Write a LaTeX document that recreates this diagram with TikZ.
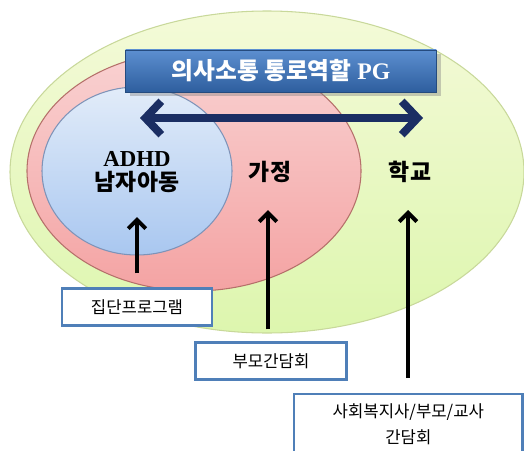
\documentclass[tikz,border=0pt]{standalone}
\usepackage{fontspec}
\setmainfont{Liberation Serif}
\newfontfamily\kr{Noto Sans CJK KR}
\usetikzlibrary{arrows.meta, positioning, shadows}

\definecolor{schoolfill}{HTML}{F4FAD8}
\definecolor{schoolfillb}{HTML}{DDF6AE}
\definecolor{schoolline}{HTML}{C8D89A}
\definecolor{homefill}{HTML}{F9D2D2}
\definecolor{homefillb}{HTML}{F4A3A3}
\definecolor{homeline}{HTML}{B5706A}
\definecolor{kidfill}{HTML}{E2ECF9}
\definecolor{kidfillb}{HTML}{A9C7F0}
\definecolor{kidline}{HTML}{7E93B8}
\definecolor{bannertop}{HTML}{5C8FD0}
\definecolor{bannerbot}{HTML}{2E5E9E}
\definecolor{navy}{HTML}{1B2E63}
\definecolor{boxblue}{HTML}{4F7FB8}

\begin{document}
\begin{tikzpicture}[x=0.02cm, y=-0.02cm]
\tikzset{
  region/.style={line width=0.6pt},
  label/.style={font=\bfseries\fontsize{13}{15}\selectfont, align=center},
  talkbox/.style={draw=boxblue, line width=1.3pt, fill=white, inner sep=0pt,
    font=\kr\fontsize{9.5}{15}\selectfont, align=center},
  uparrow/.style={line width=2.3pt, -{Straight Barb[length=5pt, width=10pt, line width=2.3pt]}},
}
\useasboundingbox (0,0) rectangle (524,450);

% regions
\draw[region, draw=schoolline, top color=schoolfill, bottom color=schoolfillb]
  (267,172) ellipse [x radius=257, y radius=161];
\draw[region, draw=homeline, top color=homefill, bottom color=homefillb]
  (194,171) ellipse [x radius=167, y radius=120];
\draw[region, draw=kidline, top color=kidfill, bottom color=kidfillb]
  (137,171) ellipse [x radius=95, y radius=84];

% banner
\node[draw=bannerbot!80!black, line width=0.4pt, top color=bannertop, bottom color=bannerbot,
  drop shadow={opacity=0.4}, minimum width=177pt, minimum height=24pt, text=white,
  font=\bfseries\fontsize{13.5}{15}\selectfont] (banner) at (281,71)
  {{\kr 의사소통 통로역할} PG};

% two-way arrow
\coordinate (talkL) at (140,118);
\coordinate (talkR) at (423,118);
\draw[navy, line width=4.5pt, {Straight Barb[length=9pt, width=19pt, line width=4.5pt]}-{Straight Barb[length=9pt, width=19pt, line width=4.5pt]}]
  (talkL) -- (talkR);

% labels
\node[label] (kid) at (137,172) {ADHD\\[-1pt]{\kr 남자아동}};
\node[label] (home) at (270,172) {\kr 가정};
\node[label] (school) at (410,172) {\kr 학교};

% boxes
\node[talkbox, minimum width=85pt, minimum height=21pt] (group) at (137,307) {집단프로그램};
\node[talkbox, minimum width=86pt, minimum height=21pt] (parent) at (271,361) {부모간담회};
\node[talkbox, minimum width=130pt, minimum height=34pt, anchor=north west] (meet) at (293,393)
  {사회복지사/부모/교사\\간담회};

% arrows up
\coordinate (kidin) at (137,217);
\coordinate (homein) at (268,210);
\coordinate (schoolin) at (408,210);
\draw[uparrow] (group.north -| kidin) ++(0,-14) -- (kidin);
\draw[uparrow] (parent.north -| homein) ++(0,-12) -- (homein);
\draw[uparrow] (meet.north -| schoolin) ++(0,-15) -- (schoolin);
\end{tikzpicture}
\end{document}
